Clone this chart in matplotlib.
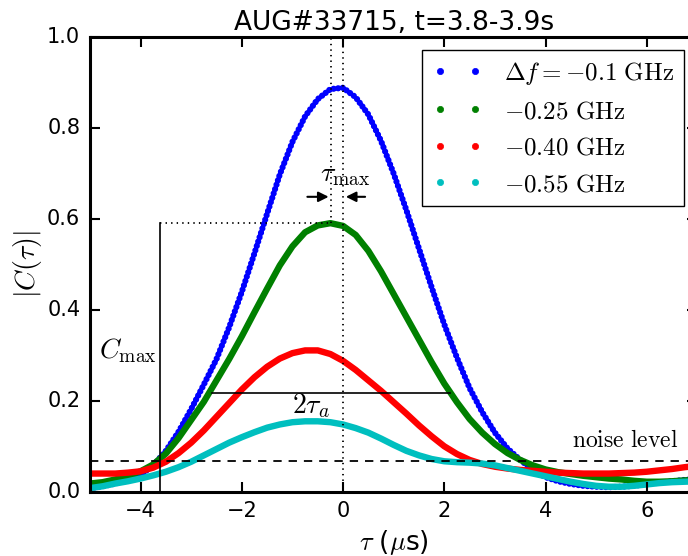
import matplotlib
matplotlib.use('Agg')
import matplotlib.pyplot as plt
from matplotlib.lines import Line2D

plt.style.use('classic')
plt.rcParams['mathtext.fontset'] = 'cm'
plt.rcParams['font.family'] = ['DejaVu Sans']

# time lag (us), sampled every 0.25 us
tau = [-5.0, -4.75, -4.5, -4.25, -4.0, -3.75, -3.5, -3.25, -3.0, -2.75,
       -2.5, -2.25, -2.0, -1.75, -1.5, -1.25, -1.0, -0.75, -0.5, -0.25,
       0.0, 0.25, 0.5, 0.75, 1.0, 1.25, 1.5, 1.75, 2.0, 2.25,
       2.5, 2.75, 3.0, 3.25, 3.5, 3.75, 4.0, 4.25, 4.5, 4.75,
       5.0, 5.25, 5.5, 5.75, 6.0, 6.25, 6.5, 6.75, 7.0]

c_010 = [0.008, 0.012, 0.018, 0.026, 0.037, 0.058, 0.090, 0.132, 0.182, 0.236,
         0.292, 0.362, 0.440, 0.525, 0.612, 0.698, 0.770, 0.826, 0.864, 0.886,
         0.889, 0.868, 0.830, 0.772, 0.700, 0.620, 0.535, 0.450, 0.368, 0.295,
         0.228, 0.175, 0.130, 0.095, 0.070, 0.048, 0.032, 0.023, 0.017, 0.013,
         0.011, 0.010, 0.011, 0.013, 0.017, 0.020, 0.023, 0.026, 0.028]

c_025 = [0.018, 0.021, 0.027, 0.035, 0.045, 0.060, 0.084, 0.118, 0.158, 0.198,
         0.245, 0.292, 0.342, 0.395, 0.447, 0.498, 0.540, 0.571, 0.586, 0.591,
         0.585, 0.565, 0.530, 0.485, 0.435, 0.385, 0.335, 0.285, 0.238, 0.197,
         0.160, 0.130, 0.105, 0.085, 0.070, 0.058, 0.049, 0.043, 0.039, 0.035,
         0.032, 0.029, 0.027, 0.024, 0.022, 0.022, 0.023, 0.025, 0.026]

c_040 = [0.040, 0.040, 0.040, 0.042, 0.045, 0.053, 0.066, 0.085, 0.108, 0.135,
         0.165, 0.195, 0.225, 0.252, 0.275, 0.293, 0.305, 0.311, 0.311, 0.303,
         0.288, 0.268, 0.245, 0.222, 0.197, 0.172, 0.146, 0.122, 0.100, 0.083,
         0.070, 0.061, 0.055, 0.051, 0.048, 0.046, 0.044, 0.042, 0.041, 0.040,
         0.040, 0.040, 0.041, 0.042, 0.044, 0.047, 0.050, 0.054, 0.057]

c_055 = [0.008, 0.012, 0.018, 0.023, 0.029, 0.036, 0.044, 0.054, 0.066, 0.080,
         0.094, 0.108, 0.120, 0.131, 0.141, 0.148, 0.153, 0.155, 0.155, 0.153,
         0.148, 0.140, 0.130, 0.117, 0.103, 0.090, 0.080, 0.072, 0.067, 0.065,
         0.064, 0.062, 0.058, 0.052, 0.046, 0.040, 0.034, 0.028, 0.022, 0.017,
         0.013, 0.011, 0.011, 0.013, 0.016, 0.019, 0.021, 0.022, 0.023]

labels = [r'$\Delta f = -0.1\ \mathrm{GHz}$', r'$-0.25\ \mathrm{GHz}$',
          r'$-0.40\ \mathrm{GHz}$', r'$-0.55\ \mathrm{GHz}$']
colors = ['b', 'g', 'r', 'c']

noise_level = 0.068
c_max = 0.591
tau_peak = -0.23
x_cmax = -3.61
y_2ta = 0.218
x_2ta = [-2.59, 2.11]

fig = plt.figure(figsize=(6.88, 5.56), dpi=100, facecolor='w')
ax = fig.add_axes([0.1308, 0.1156, 0.8828, 0.8173])

# blue curve drawn as a chain of dots, the others as thick lines
# (classic style does not scale dashes, so the pattern is in points)
ax.plot(tau, c_010, color='b', lw=4.5, linestyle=(0, (0.01, 3.3)),
        dash_capstyle='round', solid_joinstyle='round')
ax.plot(tau, c_025, color='g', lw=4.6, solid_capstyle='round')
ax.plot(tau, c_040, color='r', lw=4.6, solid_capstyle='round')
ax.plot(tau, c_055, color='c', lw=4.6, solid_capstyle='round')

# annotation lines
ax.axhline(noise_level, color='k', ls='--', lw=1.3, dashes=(6, 5))
ax.plot([x_cmax, x_cmax], [0, c_max], 'k-', lw=1.2)
ax.plot([x_cmax, tau_peak], [c_max, c_max], 'k:', lw=1.3)
ax.plot([tau_peak, tau_peak], [c_max, 1.0], 'k:', lw=1.3)
ax.plot([0, 0], [0, 1.0], 'k:', lw=1.3)
ax.plot(x_2ta, [y_2ta, y_2ta], 'k-', lw=1.2)

ax.annotate('', xy=(tau_peak, 0.649), xytext=(-0.76, 0.649),
            arrowprops=dict(arrowstyle='-|>', color='k', lw=1.5, mutation_scale=15))
ax.annotate('', xy=(0, 0.649), xytext=(0.49, 0.649),
            arrowprops=dict(arrowstyle='-|>', color='k', lw=1.5, mutation_scale=15))

ax.text(-0.45, 0.70, r'$\tau_{\max}$', fontsize=20, ha='left', va='center')
ax.text(-4.82, 0.31, r'$C_{\max}$', fontsize=20, ha='left', va='center')
ax.text(-0.63, 0.19, r'$2\tau_a$', fontsize=20, ha='center', va='center')
ax.text(6.62, 0.088, r'$\mathrm{noise\ level}$', fontsize=17, ha='right', va='bottom')

handles = [Line2D([], [], color=c, marker='.', ls='none', markersize=9) for c in colors]
leg = ax.legend(handles, labels, loc='upper right', bbox_to_anchor=(0.978, 0.973),
                borderaxespad=0, numpoints=2, fontsize=18, labelspacing=0.5,
                handlelength=2.0, handletextpad=0.86, borderpad=0.4, fancybox=False)
leg.get_frame().set_linewidth(1.0)

ax.set_xlim(-5, 7)
ax.set_ylim(0, 1)
ax.set_xticks([-4, -2, 0, 2, 4, 6])
ax.set_yticks([0.0, 0.2, 0.4, 0.6, 0.8, 1.0])
ax.set_yticklabels(['0.0', '0.2', '0.4', '0.6', '0.8', '1.0'])
ax.tick_params(labelsize=15, length=7, width=1.5, direction='in', pad=7)
for s in ax.spines.values():
    s.set_linewidth(2.2)

ax.set_xlabel(r'$\tau$ ($\mu$s)', fontsize=19)
ax.set_ylabel(r'$|C(\tau)|$', fontsize=20, labelpad=2)
ax.set_title('AUG#33715, t=3.8-3.9s', fontsize=19)

fig.savefig('out.png', dpi=100, facecolor='w')
